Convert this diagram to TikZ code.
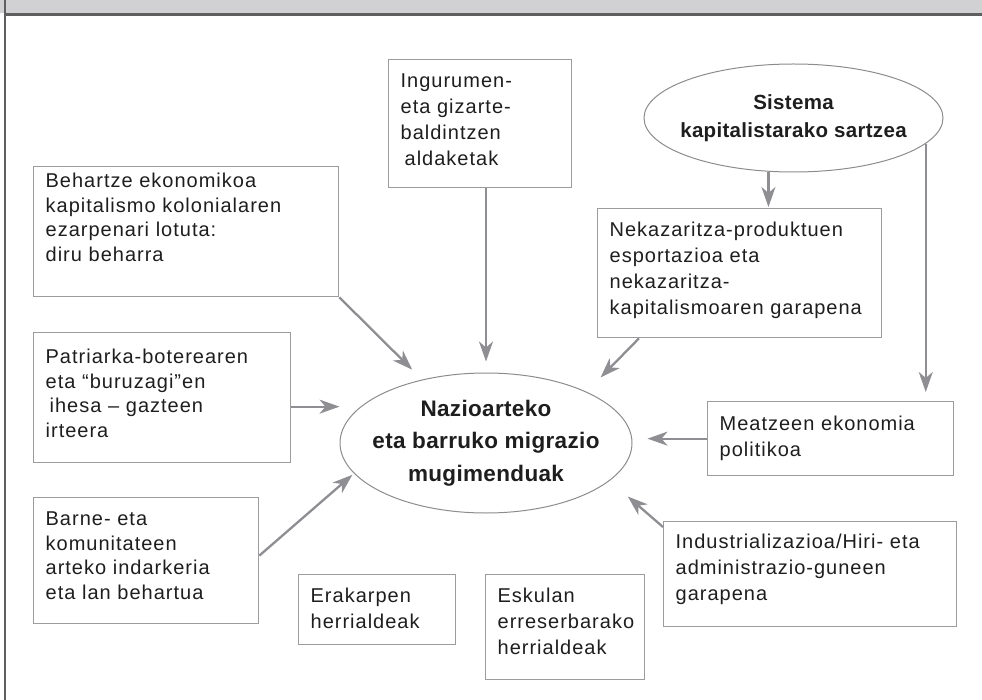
\documentclass[tikz,border=0pt]{standalone}
\usepackage{fontspec}
\setmainfont{Liberation Sans}
\newfontfamily\boxfont[LetterSpace=5]{Liberation Sans}
\newfontfamily\ovalfont[LetterSpace=1.5]{Liberation Sans}
\usepackage{tikz}
\usepackage{xcolor}
\usetikzlibrary{arrows.meta}
\usetikzlibrary{shapes,backgrounds}
\definecolor{headgray}{HTML}{D1D1D3}
\definecolor{framegray}{HTML}{5F5F5F}
\definecolor{linegray}{HTML}{9C9C9C}
\definecolor{ovalgray}{HTML}{8C8C8C}
\definecolor{arrowgray}{HTML}{8E8E93}
\definecolor{textgray}{HTML}{1E1E1E}
\hyphenpenalty=10000
\exhyphenpenalty=10000

\begin{document}
\begin{tikzpicture}[x=1pt,y=-1pt,>={Stealth[length=20pt,width=14pt,inset=6pt]},
    every edge/.style={draw=arrowgray,line width=2.3pt,->},
    box node/.style={draw=linegray,line width=1.3pt,anchor=north west,inner xsep=12pt,inner ysep=0pt,
      text height=28pt,align=left,text=textgray,font=\boxfont\fontsize{20}{26}\selectfont},
    left box/.style={box node,font=\boxfont\fontsize{20}{24.5}\selectfont},
    oval node/.style={ellipse,draw=ovalgray,line width=1pt,inner sep=0pt,align=center,text=textgray}]

  \useasboundingbox (0,0) rectangle (982,700);
  \fill[headgray] (0,0) rectangle (982,13);
  \draw[framegray,line width=2.5pt] (5,14.5) -- (982,14.5);
  \draw[framegray,line width=2pt] (5,0) -- (5,700);

  \node[oval node,minimum width=299pt,minimum height=108pt,inner xsep=-14pt,
        font=\ovalfont\bfseries\fontsize{20.5}{28}\selectfont] (sistema) at (793.5,118)
        {Sistema\\kapitalistarako sartzea};
  \node[oval node,minimum width=292pt,minimum height=140pt,inner xsep=-16pt,
        font=\ovalfont\bfseries\fontsize{22.5}{32.5}\selectfont] (migrazio) at (486,443)
        {Nazioarteko\\eta barruko migrazio\\mugimenduak};

  \node[box node,text width=159pt,text depth=100pt] (ingurumen) at (388,59)
        {Ingurumen-\\eta gizarte-\\baldintzen\\\hspace*{4pt}aldaketak};
  \node[left box,text width=281pt,text height=21pt,text depth=109pt] (behartze) at (33,166)
        {Behartze ekonomikoa\\kapitalismo kolonialaren\\ezarpenari lotuta:\\diru beharra};
  \node[left box,text width=233pt,text height=31pt,text depth=99pt] (patriarka) at (33,332)
        {Patriarka-boterearen\\eta “buruzagi”en\\\hspace*{4pt}ihesa – gazteen\\irteera};
  \node[box node,text width=260pt,text depth=101pt] (nekazaritza) at (597,208)
        {Nekazaritza-produktuen\\esportazioa eta\\nekazaritza-\\kapitalismoaren garapena};
  \node[box node,text width=222pt,text height=29pt,text depth=45pt] (meatzeen) at (707,401)
        {Meatzeen ekonomia\\politikoa};
  \node[left box,text width=201pt,text depth=98pt] (barne) at (33,497)
        {Barne- eta\\komunitateen\\arteko indarkeria\\eta lan behartua};
  \node[box node,text width=269pt,text height=27pt,text depth=78pt] (industri) at (663,521)
        {Industrializazioa/Hiri- eta\\administrazio-guneen\\garapena};
  \node[box node,text width=133pt,text depth=42pt] (erakarpen) at (298,574)
        {Erakarpen\\herrialdeak};
  \node[box node,text width=135pt,text depth=77pt] (eskulan) at (485,574)
        {Eskulan\\erreserbarako\\herrialdeak};

  \coordinate (patr) at ([yshift=-9pt]patriarka.east);

  \path
    (sistema.245) edge[shorten >=1pt] (sistema.245 |- nekazaritza.north)
    (sistema.-11) edge[shorten >=9pt] (sistema.-11 |- meatzeen.north)
    (migrazio |- ingurumen.south) edge[shorten >=11pt] (migrazio)
    (behartze.south east) edge[shorten >=14pt] (migrazio)
    (patr) edge (patr -| migrazio.west)
    ([xshift=42pt]nekazaritza.south west) edge[shorten >=20pt] (migrazio.27)
    (meatzeen.west) edge[shorten >=15pt] (meatzeen.west -| migrazio.east)
    ([yshift=-6pt]industri.north west) edge[shorten >=24pt] (migrazio.-17)
    ([yshift=5pt]barne.east) edge[shorten >=2pt] (migrazio.193)
    ;
\end{tikzpicture}
\end{document}
